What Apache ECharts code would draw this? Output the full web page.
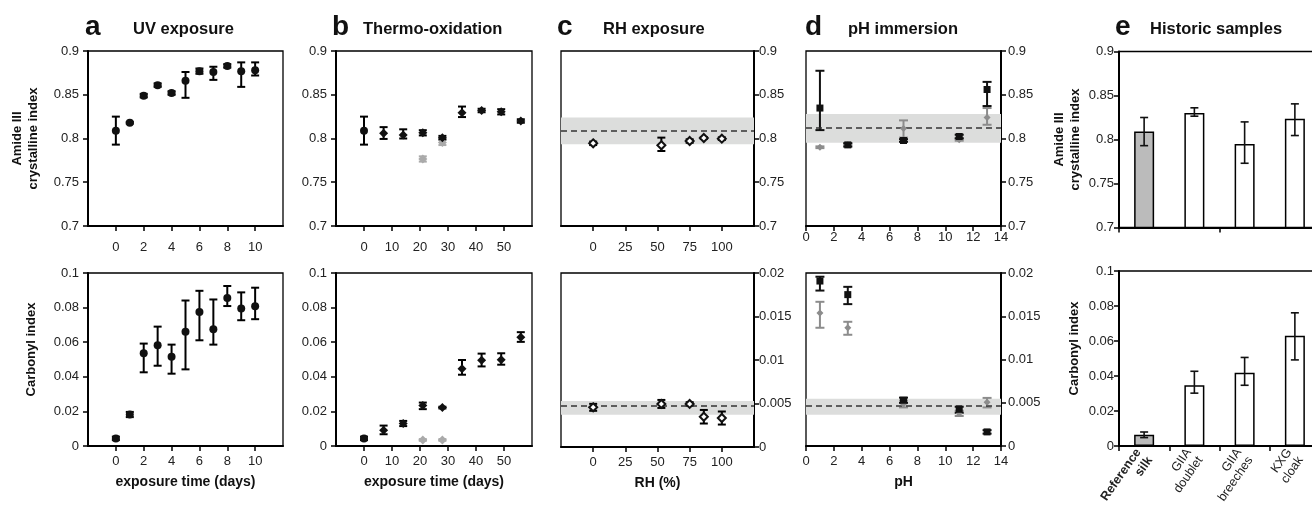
<!DOCTYPE html>
<html>
<head>
<meta charset="utf-8">
<script src="https://cdn.jsdelivr.net/npm/echarts@6/dist/echarts.min.js"></script>
<style>html,body{margin:0;padding:0;background:#fff}#c{width:1312px;height:505px}</style>
</head>
<body>
<div id="c"></div>
<script>
// ---------- DATA ----------
// a: UV exposure
const uvDays = [0,1,2,3,4,5,6,7,8,9,10];
const uvCryst = [0.809,0.818,0.849,0.861,0.852,0.866,0.877,0.876,0.883,0.877,0.878];
const uvCrystErr = [[0.016,0.016],[0.001,0.001],[0.002,0.002],[0.002,0.002],[0.002,0.002],[0.0195,0.010],[0.003,0.003],[0.009,0.006],[0.002,0.002],[0.018,0.010],[0.006,0.009]];
const uvCarb = [0.0044,0.0182,0.0536,0.0582,0.0516,0.0661,0.0774,0.0675,0.0855,0.0795,0.0808];
const uvCarbErr = [[0.001,0.001],[0.0015,0.0015],[0.011,0.0056],[0.0118,0.0108],[0.0098,0.007],[0.0218,0.018],[0.0163,0.0123],[0.0089,0.0172],[0.0046,0.007],[0.0068,0.0093],[0.0075,0.0107]];
// b: Thermo-oxidation
const thDays = [0,7,14,21,28,35,42,49,56];
const thCryst = [0.809,0.806,0.804,0.8065,0.801,0.8295,0.832,0.8305,0.82];
const thCrystErr = [[0.016,0.016],[0.0065,0.007],[0.004,0.0065],[0.003,0.003],[0.002,0.002],[0.005,0.007],[0.002,0.002],[0.003,0.003],[0.002,0.002]];
const thGrayDays = [21,28];
const thGrayCryst = [0.7766,0.7955];
const thGrayCrystErr = [[0.003,0.003],[0.003,0.003]];
const thCarb = [0.0044,0.0091,0.013,0.0234,0.0222,0.0447,0.0495,0.0499,0.0629];
const thCarbErr = [[0.001,0.001],[0.0023,0.0027],[0.0015,0.0015],[0.0021,0.0017],[0.0005,0.0005],[0.0035,0.005],[0.0035,0.0039],[0.0029,0.0037],[0.0027,0.0029]];
const thGrayCarb = [0.0035,0.0035];
const thGrayCarbErr = [[0.0005,0.0005],[0.0005,0.0005]];
// c: RH exposure
const rhLevels = [0,53,75,86,100];
const rhCryst = [0.7945,0.7922,0.7971,0.8006,0.7998];
const rhCrystErr = [[0.002,0.002],[0.0065,0.0088],[0.002,0.002],[0.001,0.001],[0.0015,0.0015]];
const rhCarb = [0.00456,0.00495,0.00495,0.00348,0.00333];
const rhCarbErr = [[0.0004,0.0004],[0.00046,0.00046],[0.0002,0.0002],[0.00078,0.00078],[0.00075,0.00075]];
const rhRefCryst = {mean:0.8092, band:[0.7935,0.8240]};
const rhRefCarb = {mean:0.0047, band:[0.0037,0.0053]};
// d: pH immersion
const phLevels = [1,3,7,11,13];
const phCryst = [0.8348,0.7927,0.7977,0.8023,0.856];
const phCrystErr = [[0.0252,0.0426],[0.002,0.002],[0.0015,0.0015],[0.002,0.002],[0.0189,0.0087]];
const phGrayCryst = [0.790,0.793,0.8115,0.7985,0.8241];
const phGrayCrystErr = [[0.001,0.001],[0.001,0.001],[0.0105,0.0092],[0.001,0.001],[0.0084,0.0107]];
const phCarb = [0.01907,0.0175,0.00529,0.00424,0.00163];
const phCarbErr = [[0.0011,0.0005],[0.0011,0.0009],[0.0003,0.0003],[0.0004,0.0003],[0.0002,0.0002]];
const phGrayCarb = [0.01537,0.01366,0.00486,0.00377,0.00506];
const phGrayCarbErr = [[0.0017,0.0013],[0.0008,0.0007],[0.0004,0.0004],[0.0003,0.0003],[0.0006,0.0005]];
const phRefCryst = {mean:0.8123, band:[0.7952,0.8280]};
const phRefCarb = {mean:0.0047, band:[0.0036,0.00545]};
// e: Historic samples
const histSamples = ['Reference\nsilk','GIIA\ndoublet','GIIA\nbreeches','KXG\ncloak'];
const histCryst = [0.809,0.830,0.795,0.8235];
const histCrystErr = [[0.016,0.016],[0.0035,0.006],[0.022,0.025],[0.019,0.017]];
const histCarb = [0.0065,0.0347,0.0418,0.063];
const histCarbErr = [[0.0017,0.0015],[0.0045,0.008],[0.0071,0.0088],[0.0138,0.0131]];
// tick settings
const crystTicks = {min:0.7, max:0.9, interval:0.05};
const carbTicks = {min:0, max:0.1, interval:0.02};
const smallCarbTicks = {min:0, max:0.02, interval:0.005};

// ---------- CHART ----------
const FONT = 'Liberation Sans, Arial, Helvetica, sans-serif';
const chart = echarts.init(document.getElementById('c'), null, {renderer:'canvas'});

const grids = [
  {left:88, top:51, width:195, height:175},
  {left:336, top:51, width:196, height:175},
  {left:561, top:51, width:193, height:175},
  {left:806, top:51, width:195, height:175},
  {left:1119, top:51.5, width:201, height:176},
  {left:88, top:273, width:195, height:173},
  {left:336, top:273, width:196, height:173},
  {left:561, top:273, width:193, height:174},
  {left:806, top:273, width:195, height:173},
  {left:1119, top:271, width:201, height:175}
].map(g => Object.assign({show:true, borderColor:'#000', borderWidth:1.3, backgroundColor:'transparent',
  containLabel:false, outerBoundsMode:'none'}, g));

const axLine = {show:true, onZero:false, lineStyle:{color:'#000', width:2}};
const axTick = {show:true, inside:false, length:5, lineStyle:{color:'#000', width:1.5}};
const lbl = {color:'#222', fontSize:13, fontFamily:FONT};

function xVal(gi, min, max, interval, hideEnds, margin, name) {
  return {
    type:'value', gridIndex:gi, min:min, max:max, interval:interval,
    axisLine:axLine, axisTick:axTick, splitLine:{show:false},
    axisLabel:Object.assign({}, lbl, {margin:margin, showMinLabel:!hideEnds, showMaxLabel:!hideEnds,
      formatter: v => (hideEnds && (v===min || v===max)) ? '' : String(v)}),
    name:name || '', nameLocation:'middle', nameGap:29,
    nameTextStyle:{fontWeight:'bold', fontSize:14, color:'#111', fontFamily:FONT}
  };
}
function yVal(gi, t, pos, margin, name, nameGap, padShift) {
  return {
    type:'value', gridIndex:gi, min:t.min, max:t.max, interval:t.interval, position:pos,
    axisLine:axLine, axisTick:axTick, splitLine:{show:false},
    axisLabel:Object.assign({}, lbl, {margin:margin}),
    name:name || '', nameLocation:'middle', nameGap:nameGap || 40, nameRotate:90,
    nameTextStyle:{fontWeight:'bold', fontSize:13, color:'#111', fontFamily:FONT, lineHeight:16,
      padding: padShift ? [0,0,0,padShift] : 0}
  };
}
const amideName = 'Amide III\ncrystalline index';
const carbName = 'Carbonyl index';

const xAxes = [
  xVal(0, -2, 12, 2, true, 15),
  xVal(1, -10, 60, 10, true, 15),
  xVal(2, -25, 125, 25, true, 15),
  xVal(3, 0, 14, 2, false, 5),
  {type:'category', gridIndex:4, data:histSamples, axisLine:axLine, axisTick:axTick, axisLabel:{show:false}},
  xVal(5, -2, 12, 2, true, 9, 'exposure time (days)'),
  xVal(6, -10, 60, 10, true, 9, 'exposure time (days)'),
  xVal(7, -25, 125, 25, true, 9, 'RH (%)'),
  xVal(8, 0, 14, 2, false, 9, 'pH'),
  {type:'category', gridIndex:9,
    data: histSamples.map((s,i) => i===0 ? {value:s, textStyle:{fontWeight:'bold'}} : s),
    axisLine:axLine, axisTick:axTick,
    axisLabel:{interval:0, rotate:55, margin:8, color:'#222', fontSize:12.5, fontFamily:FONT, lineHeight:14}}
];
const yAxes = [
  yVal(0, crystTicks, 'left', 9, amideName, 47),
  yVal(1, crystTicks, 'left', 9),
  yVal(2, crystTicks, 'right', 5),
  yVal(3, crystTicks, 'right', 7),
  yVal(4, crystTicks, 'left', 5, amideName, 36),
  yVal(5, carbTicks, 'left', 9, carbName, 49, 20),
  yVal(6, carbTicks, 'left', 9),
  yVal(7, smallCarbTicks, 'right', 5),
  yVal(8, smallCarbTicks, 'right', 7),
  yVal(9, carbTicks, 'left', 5, carbName, 37, 20)
];

function errRender(capW, color, lw) {
  return function(params, api) {
    const x = api.value(0), lo = api.value(1), hi = api.value(2);
    const p1 = api.coord([x, lo]), p2 = api.coord([x, hi]);
    const h = capW / 2;
    const st = {stroke:color, lineWidth:lw};
    return {type:'group', children:[
      {type:'line', shape:{x1:p1[0], y1:p1[1], x2:p2[0], y2:p2[1]}, style:st},
      {type:'line', shape:{x1:p1[0]-h, y1:p1[1], x2:p1[0]+h, y2:p1[1]}, style:st},
      {type:'line', shape:{x1:p2[0]-h, y1:p2[1], x2:p2[0]+h, y2:p2[1]}, style:st}
    ]};
  };
}
function errSeries(gi, xs, vals, errs, color, capW, lw) {
  return {type:'custom', xAxisIndex:gi, yAxisIndex:gi, z:3, silent:true,
    renderItem: errRender(capW || 8, color || '#000', lw || 2),
    encode:{x:0, y:[1,2]},
    data: xs.map((x,i) => [x, vals[i]-errs[i][0], vals[i]+errs[i][1]])};
}
function ptSeries(gi, xs, vals, symbol, size, color, firstSymbol) {
  return {type:'scatter', xAxisIndex:gi, yAxisIndex:gi, z:5, silent:true,
    symbol:symbol, symbolSize:size,
    itemStyle:{color:color, borderColor:color, borderWidth: symbol.indexOf('empty')===0 ? 1.5 : 0, opacity:1},
    data: xs.map((x,i) => (firstSymbol && i===0) ? {value:[x, vals[i]], symbol:firstSymbol, symbolSize:8} : [x, vals[i]])};
}
function refSeries(gi, ref) {
  return {type:'scatter', xAxisIndex:gi, yAxisIndex:gi, z:1, data:[], silent:true,
    markArea:{silent:true, precision:8, itemStyle:{color:'#dcdddc'}, data:[[{yAxis:ref.band[0]},{yAxis:ref.band[1]}]]},
    markLine:{silent:true, precision:8, symbol:'none', label:{show:false}, lineStyle:{color:'#333', type:[6,4], width:1.5},
      data:[{yAxis:ref.mean}]}};
}
function barSeries(gi, vals) {
  return {type:'bar', xAxisIndex:gi, yAxisIndex:gi, barWidth:20, z:2, silent:true,
    data: vals.map((v,i) => ({value:v, itemStyle:{color: i===0 ? '#bbbbbb' : '#ffffff', borderColor:'#000', borderWidth:1.5}}))};
}
const idx = a => a.map((_, i) => i);

const series = [
  // a
  errSeries(0, uvDays, uvCryst, uvCrystErr), ptSeries(0, uvDays, uvCryst, 'circle', 8, '#111'),
  errSeries(5, uvDays, uvCarb, uvCarbErr), ptSeries(5, uvDays, uvCarb, 'circle', 8, '#111'),
  // b
  errSeries(1, thGrayDays, thGrayCryst, thGrayCrystErr, '#aaaaaa'), ptSeries(1, thGrayDays, thGrayCryst, 'diamond', 9, '#aaaaaa'),
  errSeries(1, thDays, thCryst, thCrystErr), ptSeries(1, thDays, thCryst, 'diamond', 9, '#111', 'circle'),
  errSeries(6, thGrayDays, thGrayCarb, thGrayCarbErr, '#aaaaaa'), ptSeries(6, thGrayDays, thGrayCarb, 'diamond', 9, '#aaaaaa'),
  errSeries(6, thDays, thCarb, thCarbErr), ptSeries(6, thDays, thCarb, 'diamond', 9, '#111', 'circle'),
  // c
  refSeries(2, rhRefCryst),
  errSeries(2, rhLevels, rhCryst, rhCrystErr), ptSeries(2, rhLevels, rhCryst, 'emptyDiamond', 8, '#111'),
  refSeries(7, rhRefCarb),
  errSeries(7, rhLevels, rhCarb, rhCarbErr), ptSeries(7, rhLevels, rhCarb, 'emptyDiamond', 8, '#111'),
  // d
  refSeries(3, phRefCryst),
  errSeries(3, phLevels, phGrayCryst, phGrayCrystErr, '#8c8c8c', 9), ptSeries(3, phLevels, phGrayCryst, 'diamond', 7, '#8c8c8c'),
  errSeries(3, phLevels, phCryst, phCrystErr, '#111', 9), ptSeries(3, phLevels, phCryst, 'rect', 7, '#111'),
  refSeries(8, phRefCarb),
  errSeries(8, phLevels, phGrayCarb, phGrayCarbErr, '#8c8c8c', 9), ptSeries(8, phLevels, phGrayCarb, 'diamond', 7, '#8c8c8c'),
  errSeries(8, phLevels, phCarb, phCarbErr, '#111', 9), ptSeries(8, phLevels, phCarb, 'rect', 7, '#111'),
  // e
  barSeries(4, histCryst), errSeries(4, idx(histCryst), histCryst, histCrystErr, '#111', 8, 1.6),
  barSeries(9, histCarb), errSeries(9, idx(histCarb), histCarb, histCarbErr, '#111', 8, 1.6)
];

function txt(x, y, s, size) {
  return {type:'text', x:x, y:y, silent:true,
    style:{text:s, font:'bold ' + size + 'px ' + FONT, fill:'#111', verticalAlign:'middle', align:'left'}};
}
const graphic = [
  txt(85, 27, 'a', 28), txt(133, 29, 'UV exposure', 16.5),
  txt(332, 27, 'b', 28), txt(363, 29, 'Thermo-oxidation', 16.5),
  txt(557, 27, 'c', 28), txt(603, 29, 'RH exposure', 16.5),
  txt(805, 27, 'd', 28), txt(848, 29, 'pH immersion', 16.5),
  txt(1115, 27, 'e', 28), txt(1150, 29, 'Historic samples', 16.5)
];

chart.setOption({
  animation:false,
  backgroundColor:'#fff',
  textStyle:{fontFamily:FONT},
  grid:grids, xAxis:xAxes, yAxis:yAxes, series:series, graphic:graphic
});
</script>
</body>
</html>
